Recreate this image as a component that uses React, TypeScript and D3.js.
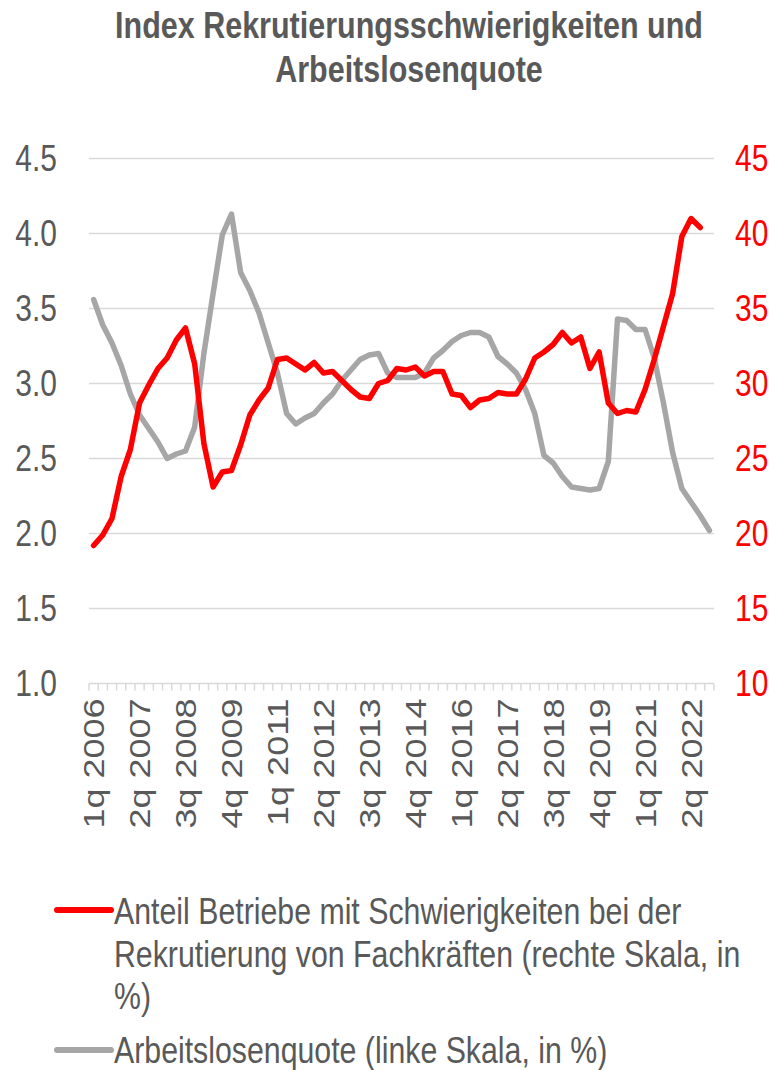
import React from "react";
import * as d3 from "d3";

// Quarterly categories 1q 2006 .. 4q 2022
const startYear = 2006;
const endYear = 2022;
const quarterNames = ["1q", "2q", "3q", "4q"];
const categories: string[] = [];
for (let y = startYear; y <= endYear; y++) for (const q of quarterNames) categories.push(`${q} ${y}`);

// Anteil Betriebe mit Schwierigkeiten bei der Rekrutierung von Fachkräften (right axis, %)
const recruitingDifficulty = [
  19.2, 19.9, 21.0, 23.8, 25.6, 28.7, 29.9, 31.0, 31.7, 32.9,
  33.7, 31.3, 26.0, 23.1, 24.1, 24.2, 25.9, 27.9, 28.9, 29.7,
  31.6, 31.7, 31.3, 30.9, 31.4, 30.7, 30.8, 30.2, 29.6, 29.1,
  29.0, 30.0, 30.2, 31.0, 30.9, 31.1, 30.5, 30.8, 30.8, 29.3,
  29.2, 28.4, 28.9, 29.0, 29.4, 29.3, 29.3, 30.3, 31.7, 32.1,
  32.6, 33.4, 32.7, 33.1, 31.0, 32.1, 28.7, 28.0, 28.2, 28.1,
  29.6, 31.6, 33.8, 36.0, 39.8, 41.0, 40.4,
];

// Arbeitslosenquote (left axis, %)
const unemploymentRate = [
  3.56, 3.39, 3.27, 3.12, 2.93, 2.79, 2.70, 2.61, 2.50, 2.53,
  2.55, 2.71, 3.20, 3.60, 3.99, 4.13, 3.74, 3.62, 3.47, 3.27,
  3.07, 2.80, 2.73, 2.77, 2.80, 2.87, 2.93, 3.02, 3.09, 3.16,
  3.19, 3.20, 3.07, 3.04, 3.04, 3.04, 3.07, 3.17, 3.22, 3.28,
  3.32, 3.34, 3.34, 3.31, 3.18, 3.13, 3.07, 2.96, 2.80, 2.52,
  2.47, 2.38, 2.31, 2.30, 2.29, 2.30, 2.48, 3.43, 3.42, 3.36,
  3.36, 3.17, 2.87, 2.54, 2.30, 2.21, 2.12, 2.02,
];

const leftTicks = [1.0, 1.5, 2.0, 2.5, 3.0, 3.5, 4.0, 4.5];
const rightTicks = [10, 15, 20, 25, 30, 35, 40, 45];

const titleLines = ["Index Rekrutierungsschwierigkeiten und", "Arbeitslosenquote"];
const legendRed = [
  "Anteil Betriebe mit Schwierigkeiten bei der",
  "Rekrutierung von Fachkräften (rechte Skala, in",
  "%)",
];
const legendGray = "Arbeitslosenquote (linke Skala, in %)";

const RED = "#ff0000";
const GRAY = "#a6a6a6";
const TEXT = "#595959";
const GRID = "#d9d9d9";
const FONT = "'Liberation Sans', Arial, sans-serif";
const STRETCH = 1.2; // reference text is vertically elongated

type TProps = {
  x: number;
  y: number;
  size: number;
  fill: string;
  anchor?: "start" | "middle" | "end";
  bold?: boolean;
  children: React.ReactNode;
};
function SText({ x, y, size, fill, anchor = "start", bold, children }: TProps) {
  return (
    <text
      transform={`translate(${x},${y}) scale(1,${STRETCH})`}
      textAnchor={anchor}
      fontFamily={FONT}
      fontWeight={bold ? "bold" : "normal"}
      fontSize={size}
      fill={fill}
    >
      {children}
    </text>
  );
}

export default function App() {
  const W = 782;
  const H = 1070;
  const left = 89;
  const right = 714;
  const top = 158.5;
  const bottom = 683.5;

  const x = d3.scaleBand<string>().domain(categories).range([left, right]).padding(0);
  const yL = d3.scaleLinear().domain([1, 4.5]).range([bottom, top]);
  const yR = d3.scaleLinear().domain([10, 45]).range([bottom, top]);
  const cx = (i: number) => (x(categories[i]) as number) + x.bandwidth() / 2;

  const redLine = d3
    .line<number>()
    .x((_, i) => cx(i))
    .y((d) => yR(d));
  const grayLine = d3
    .line<number>()
    .x((_, i) => cx(i))
    .y((d) => yL(d));

  const tickPositions = categories.map((c) => x(c) as number).concat([right]);
  const tickFont = 30;
  const halfCap = (0.716 * tickFont * STRETCH) / 2;

  return (
    <svg width={W} height={H} style={{ position: "absolute", left: 0, top: 0, background: "#fff" }}>
      <rect x={0} y={0} width={W} height={H} fill="#fff" />
      {titleLines.map((t, i) => (
        <SText key={t} x={409} y={38 + i * 44} anchor="middle" size={30.5} fill={TEXT} bold>
          {t}
        </SText>
      ))}

      {leftTicks.map((t) => (
        <line key={"g" + t} x1={left} x2={right} y1={yL(t)} y2={yL(t)} stroke={GRID} strokeWidth={1.5} />
      ))}
      {tickPositions.map((p, i) => (
        <line key={"t" + i} x1={p} x2={p} y1={bottom} y2={bottom + 7} stroke={GRID} strokeWidth={1.5} />
      ))}

      {leftTicks.map((t) => (
        <SText key={"l" + t} x={57} y={yL(t) + halfCap} anchor="end" size={tickFont} fill={TEXT}>
          {t.toFixed(1)}
        </SText>
      ))}
      {rightTicks.map((t) => (
        <SText key={"r" + t} x={735} y={yR(t) + halfCap} size={tickFont} fill={RED}>
          {t}
        </SText>
      ))}

      {categories.map((c, i) =>
        i % 5 === 0 ? (
          <text
            key={"x" + c}
            transform={`translate(${cx(i) + 0.358 * tickFont},${bottom + 15}) rotate(-90) scale(${STRETCH},1)`}
            textAnchor="end"
            fontFamily={FONT}
            fontSize={tickFont}
            fill={TEXT}
          >
            {c}
          </text>
        ) : null
      )}

      <path d={grayLine(unemploymentRate) || ""} fill="none" stroke={GRAY} strokeWidth={5.5} strokeLinejoin="round" strokeLinecap="round" />
      <path d={redLine(recruitingDifficulty) || ""} fill="none" stroke={RED} strokeWidth={5.5} strokeLinejoin="round" strokeLinecap="round" />

      <line x1={57} x2={111} y1={910} y2={910} stroke={RED} strokeWidth={6} strokeLinecap="round" />
      {legendRed.map((t, i) => (
        <SText key={"lr" + i} x={114} y={924 + i * 42.5} size={30.3} fill={TEXT}>
          {t}
        </SText>
      ))}
      <line x1={57} x2={111} y1={1050} y2={1050} stroke={GRAY} strokeWidth={6} strokeLinecap="round" />
      <SText x={114} y={1063} size={30.3} fill={TEXT}>
        {legendGray}
      </SText>
    </svg>
  );
}
